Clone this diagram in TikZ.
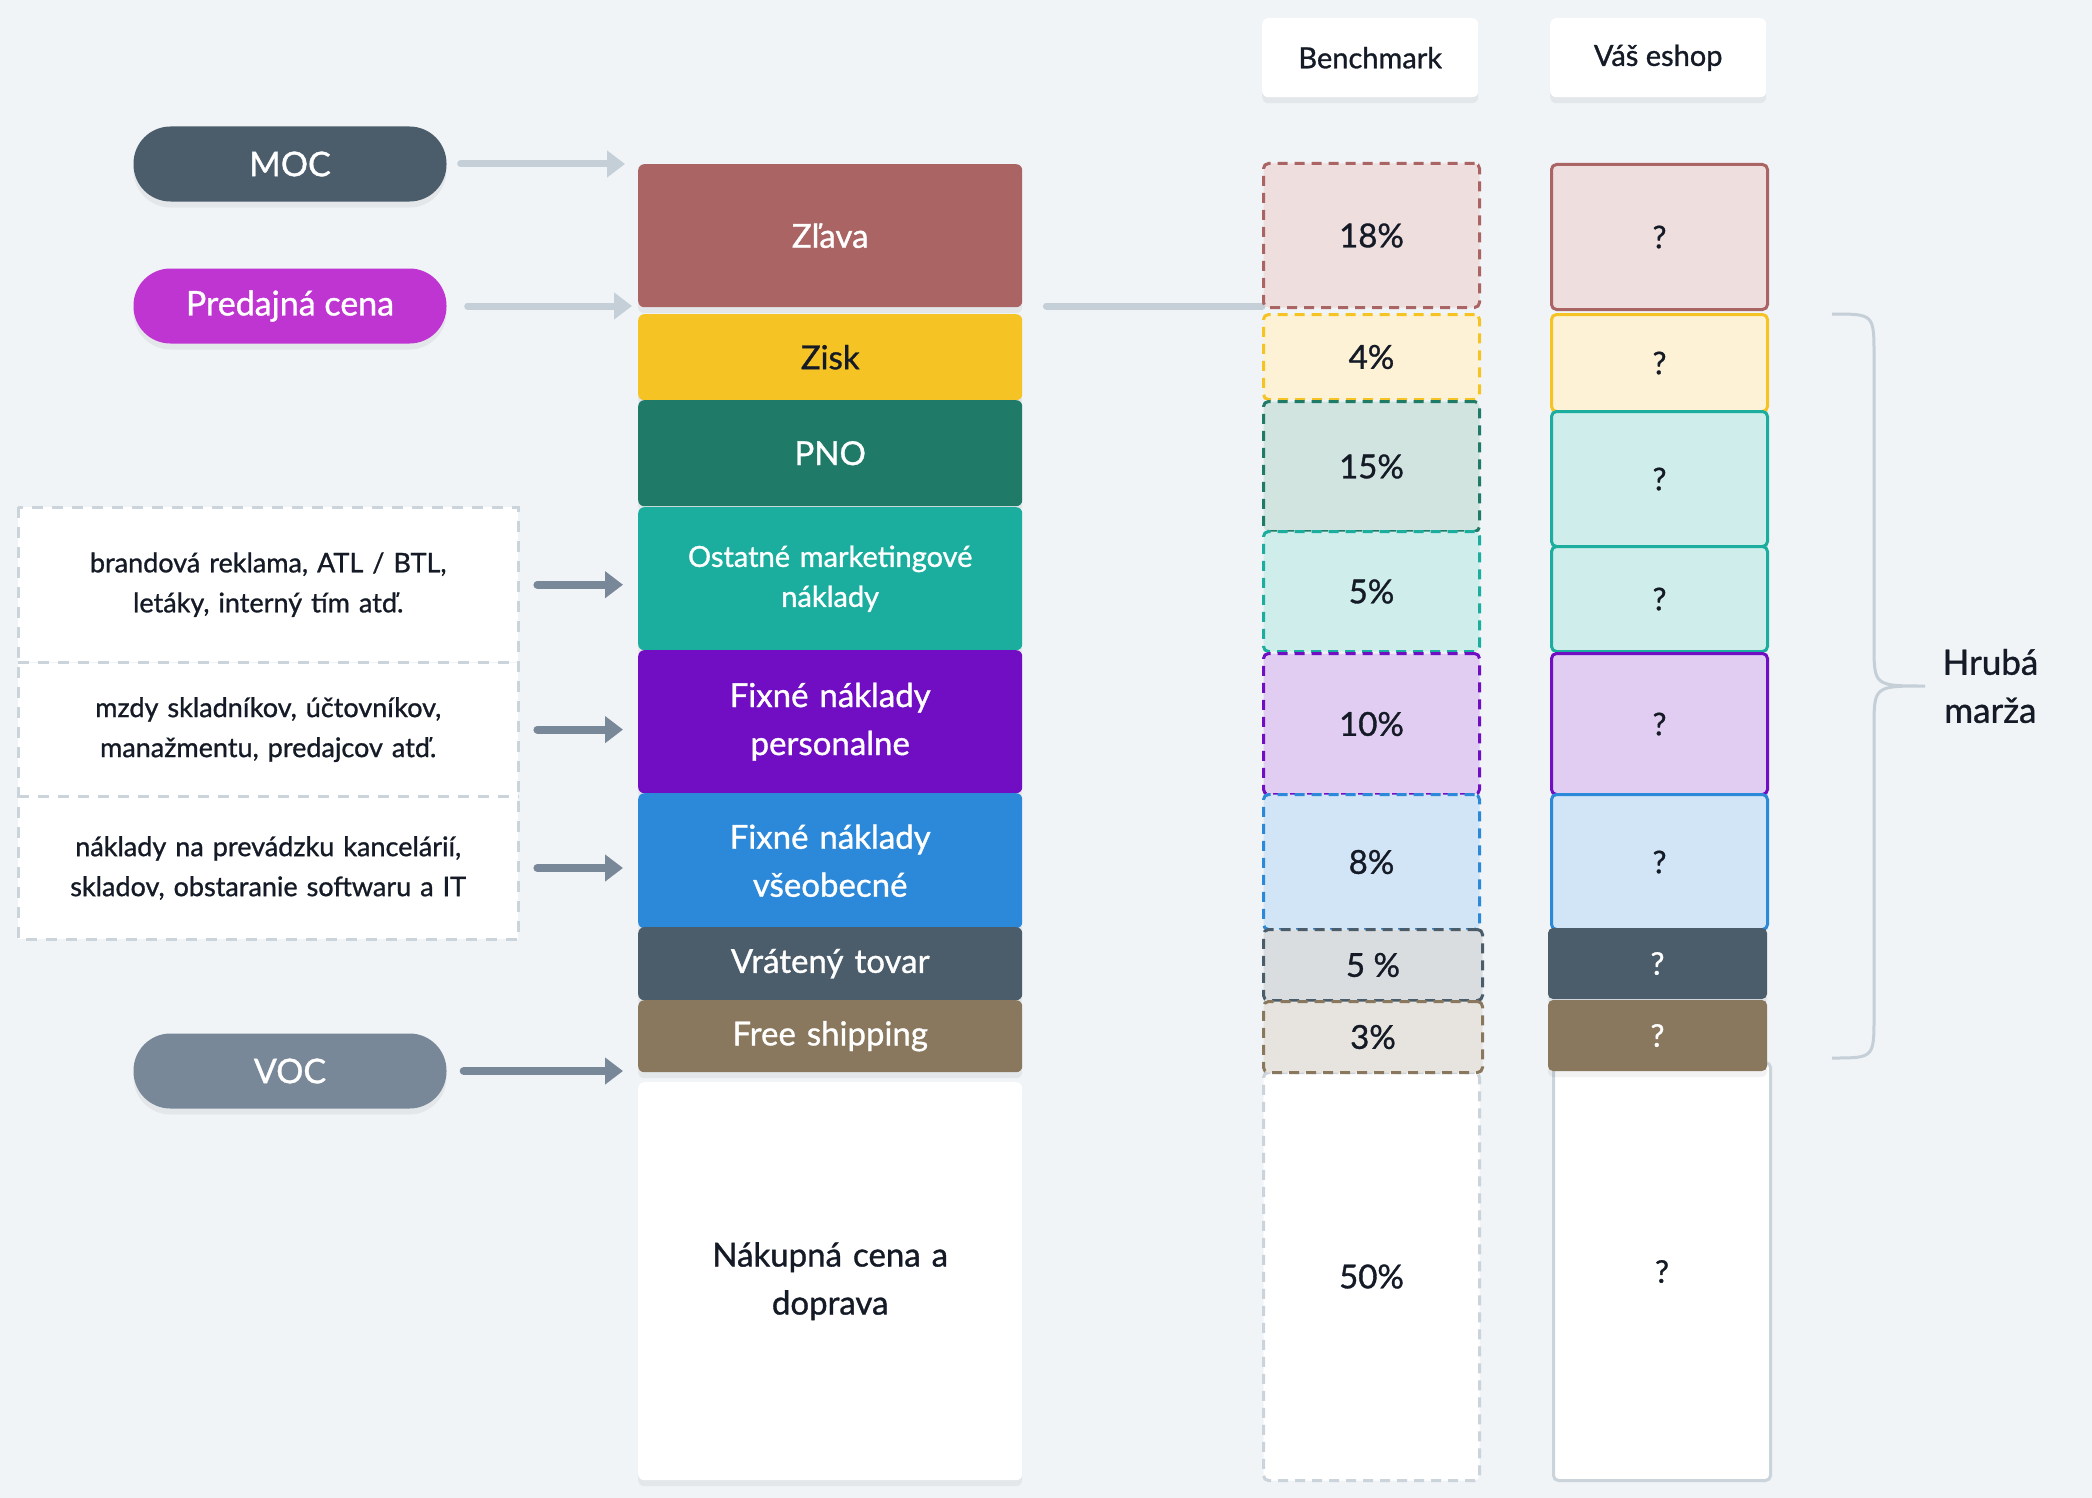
\documentclass[tikz,border=0pt]{standalone}
\usepackage{fontspec}
\setmainfont{Lato}[FakeBold=1]
\usetikzlibrary{arrows.meta, positioning, shadows}

\definecolor{bgc}{HTML}{F0F4F7}
\definecolor{darkc}{HTML}{151B26}
\definecolor{linec}{HTML}{C5CFD7}
\definecolor{dashc}{HTML}{CBD3DB}
\definecolor{arrc}{HTML}{788898}
\definecolor{mocc}{HTML}{4B5C6B}
\definecolor{predc}{HTML}{BF35D2}
\definecolor{vocc}{HTML}{788898}
\definecolor{zlavac}{HTML}{AB6464}
\definecolor{ziskc}{HTML}{F6C325}
\definecolor{pnoc}{HTML}{1F7A68}
\definecolor{ostc}{HTML}{1BAE9E}
\definecolor{fixpc}{HTML}{710EC3}
\definecolor{fixvc}{HTML}{2C89D9}
\definecolor{vratc}{HTML}{4B5C6B}
\definecolor{freec}{HTML}{89785E}
\definecolor{zlavaL}{HTML}{EEDEDE}
\definecolor{ziskL}{HTML}{FDF2D5}
\definecolor{pnoL}{HTML}{D1E4DF}
\definecolor{ostL}{HTML}{CFEDEA}
\definecolor{fixpL}{HTML}{E2CDF2}
\definecolor{fixvL}{HTML}{D2E5F6}
\definecolor{vratL}{HTML}{D9DDE0}
\definecolor{freeL}{HTML}{E7E4DF}

\begin{document}
\begin{tikzpicture}[
    x=1pt, y=-1pt,
    % Styles for the cost stack
    softshadow/.style={drop shadow={shadow xshift=0pt, shadow yshift=-6pt, opacity=0.05, fill=black}},
    pill/.style={rounded corners=37pt, minimum width=313pt, minimum height=75pt, inner sep=0pt,
        text=white, font=\fontsize{34}{40}\selectfont, softshadow},
    note/.style={anchor=north west, minimum width=500pt, text width=480pt, align=center, inner sep=0pt,
        fill=white, text=darkc, font=\fontsize{27}{40}\selectfont},
    notedash/.style={draw=dashc, line width=3pt, dash pattern=on 11pt off 9pt},
    blk/.style={anchor=north west, minimum width=384pt, text width=370pt, align=center, inner sep=0pt,
        rounded corners=6pt, text=white, font=\fontsize{33}{48}\selectfont, softshadow},
    hdr/.style={anchor=north west, minimum width=216pt, minimum height=79pt, inner sep=0pt,
        rounded corners=6pt, fill=white, text=darkc, font=\fontsize{29}{32}\selectfont, softshadow},
    bench/.style={anchor=north west, minimum width=216pt, inner sep=0pt, rounded corners=5pt,
        line width=3pt, dash pattern=on 10pt off 7pt, text=darkc, font=\fontsize{33}{36}\selectfont},
    shop/.style={anchor=north west, minimum width=216pt, inner sep=0pt, rounded corners=5pt,
        line width=3pt, text=darkc, font=\fontsize{31}{36}\selectfont},
    arrlight/.style={line width=7pt, draw=linec, line cap=round, -{Triangle[length=18pt, width=26pt]}},
    arrdark/.style={line width=8pt, draw=arrc, line cap=round, -{Triangle[length=18pt, width=26pt]}},
    link/.style={line width=7pt, draw=linec, line cap=round},
    bracel/.style={line width=3pt, draw=linec}
]

    \fill[bgc] (0,0) rectangle (2092,1498);
    \useasboundingbox (0,0) rectangle (2092,1498);

    % --- Price pills ---
    \node[pill, fill=mocc] (moc) at (290,164) {MOC};
    \node[pill, fill=predc] (pred) at (290,306) {Predajná cena};
    \node[pill, fill=vocc] (voc) at (290,1071) {VOC};

    % --- Notes (dashed box) ---
    \node[note, minimum height=155pt] (n1) at (18,507) {brandová reklama, ATL / BTL,\\letáky, interný tím atď.};
    \node[note, minimum height=134pt] (n2) at (n1.south west) {mzdy skladníkov, účtovníkov,\\manažmentu, predajcov atď.};
    \node[note, minimum height=142pt] (n3) at (n2.south west) {náklady na prevádzku kancelárií,\\skladov, obstaranie softwaru a IT};
    \draw[notedash] (n1.north west) rectangle (n3.south east);
    \draw[notedash] (n1.south west) -- (n1.south east);
    \draw[notedash] (n2.south west) -- (n2.south east);

    % --- Cost stack ---
    \node[blk, fill=zlavac, minimum height=143pt] (zlava) at (638,164) {Zľava};
    \node[blk, fill=ziskc, minimum height=86pt, text=darkc] (zisk) at (638,314) {Zisk};
    \node[blk, fill=pnoc, minimum height=106pt] (pno) at (638,400) {PNO};
    \node[blk, fill=ostc, minimum height=143pt, font=\fontsize{29}{40}\selectfont] (ost) at (638,507) {Ostatné marketingové\\náklady};
    \node[blk, fill=fixpc, minimum height=143pt] (fixp) at (638,650) {Fixné náklady\\personalne};
    \node[blk, fill=fixvc, minimum height=135pt] (fixv) at (638,793) {Fixné náklady\\všeobecné};
    \node[blk, fill=vratc, minimum height=73pt] (vrat) at (638,927) {Vrátený tovar};
    \node[blk, fill=freec, minimum height=72pt] (free) at (638,1000) {Free shipping};
    \node[blk, fill=white, minimum height=398pt, text=darkc] (nakup) at (638,1082) {Nákupná cena a\\doprava};

    % --- Arrows into the stack ---
    \draw[arrlight, shorten <=14pt, shorten >=13pt] (moc.east) -- (moc.east -| zlava.west);
    \draw[arrlight, shorten <=21pt, shorten >=6pt] (pred.east) -- (pred.east -| zlava.west);
    \draw[arrdark, shorten <=19pt, shorten >=15pt] (n1.east) -- (n1.east -| ost.west);
    \draw[arrdark, shorten <=19pt, shorten >=15pt] (n2.east) -- (n2.east -| fixp.west);
    \draw[arrdark, shorten <=19pt, shorten >=15pt] (n3.east) -- (n3.east -| fixv.west);
    \draw[arrdark, shorten <=17pt, shorten >=15pt] (voc.east) -- (voc.east -| free.west);

    % --- Column headers ---
    \node[hdr] (hbench) at (1262,18) {Benchmark};
    \node[hdr] (hshop) at (1550,18) {Váš eshop};

    % --- Benchmark column ---
    \draw[link, shorten <=24pt] (pred.east -| zlava.east) -- (pred.east -| hbench.west);
    \node[bench, draw=zlavac, fill=zlavaL, minimum height=144pt] (b18) at (1262,162) {18\%};
    \node[bench, draw=ziskc, fill=ziskL, minimum height=85pt] (b4) at (1262,313) {4\%};
    \node[bench, draw=pnoc, fill=pnoL, minimum height=130pt] (b15) at (1262,400) {15\%};
    \node[bench, draw=ostc, fill=ostL, minimum height=120pt] (b5) at (1262,530) {5\%};
    \node[bench, draw=fixpc, fill=fixpL, minimum height=141pt] (b10) at (1262,652) {10\%};
    \node[bench, draw=fixvc, fill=fixvL, minimum height=135pt] (b8) at (1262,793) {8\%};
    \node[bench, draw=dashc, fill=white, minimum height=408pt] (b50) at (1262,1071) {50\%};
    \node[bench, draw=vratc, fill=vratL, minimum height=71pt, minimum width=219pt] (b5v) at (1262,928) {5 \%};
    \node[bench, draw=freec, fill=freeL, minimum height=71pt, minimum width=219pt] (b3) at (1262,1000) {3\%};

    % --- Eshop column ---
    \node[shop, draw=zlavac, fill=zlavaL, minimum height=145pt] (s1) at (1550,163) {?};
    \node[shop, draw=ziskc, fill=ziskL, minimum height=97pt] (s2) at (1550,313) {?};
    \node[shop, draw=ostc, fill=ostL, minimum height=135pt] (s3) at (1550,410) {?};
    \node[shop, draw=ostc, fill=ostL, minimum height=105pt] (s4) at (1550,545) {?};
    \node[shop, draw=fixpc, fill=fixpL, minimum height=141pt] (s5) at (1550,652) {?};
    \node[shop, draw=fixvc, fill=fixvL, minimum height=135pt] (s6) at (1550,793) {?};
    \node[shop, draw=dashc, fill=white, minimum height=418pt, minimum width=217pt] (s9) at (1552,1061) {?};
    \node[shop, line width=0pt, fill=vratc, text=white, minimum height=71pt, minimum width=219pt, softshadow] (s7) at (1548,928) {?};
    \node[shop, line width=0pt, fill=freec, text=white, minimum height=71pt, minimum width=219pt, softshadow] (s8) at (1548,1000) {?};

    % --- Brace ---
    \coordinate (brtop) at (1832,314);
    \coordinate (brtip) at (1925,686);
    \coordinate (brbot) at (1832,1058);
    \draw[bracel] (brtop) .. controls (1874,314) .. (1874,356) -- (1874,644)
        .. controls (1874,686) .. (brtip) .. controls (1874,686) .. (1874,728)
        -- (1874,1016) .. controls (1874,1058) .. (brbot);
    \node[right=14pt of brtip, align=center, text=darkc, font=\fontsize{35}{48}\selectfont] (hruba) {Hrubá\\marža};

\end{tikzpicture}
\end{document}
